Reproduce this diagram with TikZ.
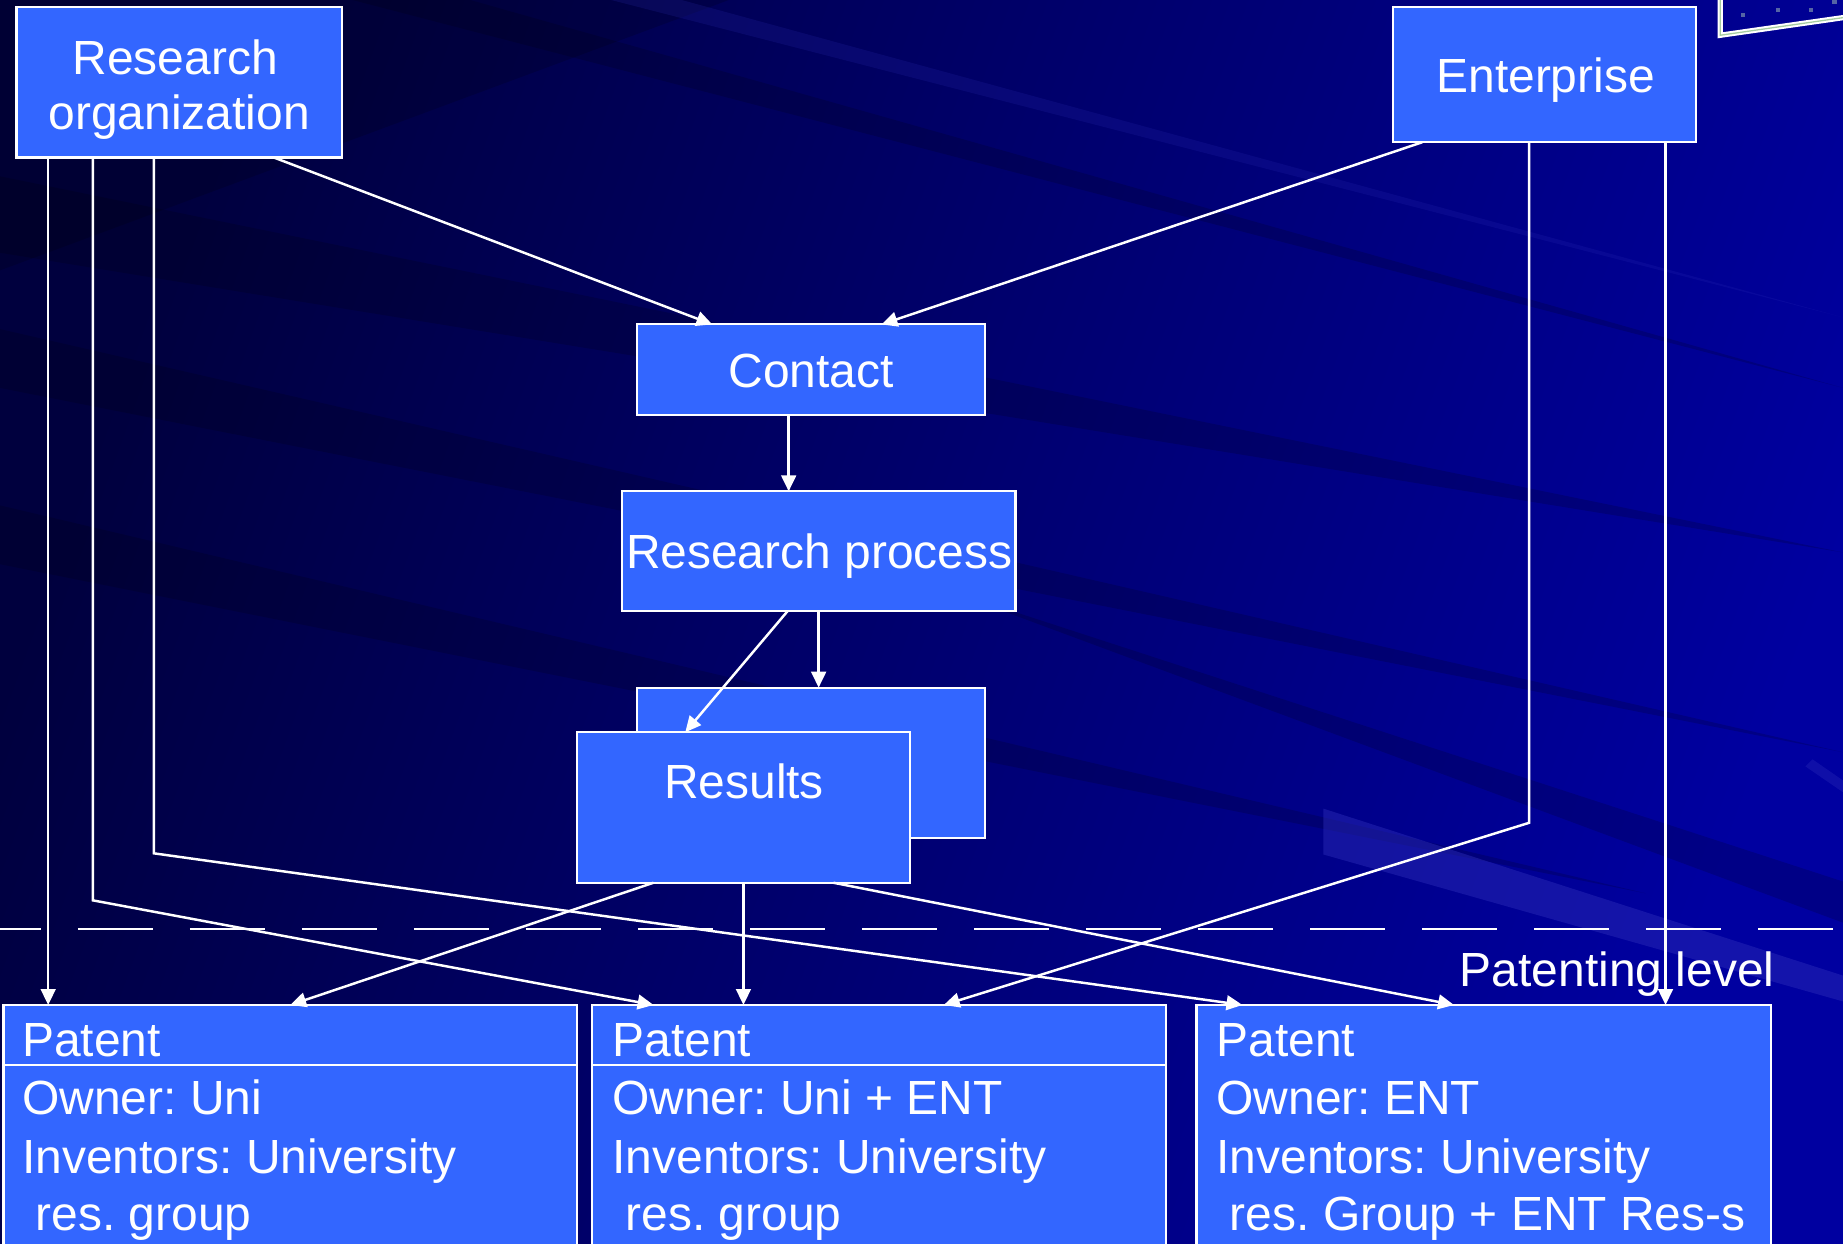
\documentclass[tikz,border=0pt]{standalone}
\usepackage{fontspec}
\setmainfont{Liberation Sans}
\usetikzlibrary{arrows.meta}
\definecolor{bgnavy}{RGB}{0,0,136}
\definecolor{bgdark}{RGB}{0,0,62}
\definecolor{bgbright}{RGB}{0,0,160}
\definecolor{bglight}{RGB}{45,45,185}
\definecolor{boxblue}{RGB}{51,102,255}
\definecolor{framegreen}{RGB}{165,205,160}
\definecolor{dotgrey}{RGB}{85,100,165}
\tikzset{
  box/.style={draw=white, line width=1.8pt, fill=boxblue, rectangle, inner sep=0pt, outer sep=0pt},
  txt/.style={text=white, font=\fontsize{40.8}{48}\selectfont\frenchspacing, inner sep=0pt, outer sep=0pt},
  arr/.style={draw=white, line width=2.1pt, -{Triangle[width=12.5pt,length=13.5pt]}},
  levelline/.style={draw=white, line width=1.8pt, dash pattern=on 64pt off 31.3pt},
  streakdark/.style={fill=black, fill opacity=0.16},
  streaklight/.style={fill=bglight, fill opacity=0.45},
}
\begin{document}
\begin{tikzpicture}[x=1pt,y=-1pt]
\useasboundingbox (0,0) rectangle (1568,1058);
\clip (0,0) rectangle (1568,1058);
% ---------- background ----------
\shade[top color=bgdark, middle color=bgnavy, bottom color=bgbright, shading angle=70] (0,0) rectangle (1568,1058);
\fill[streakdark] (0,0) -- (620,0) -- (0,230) -- cycle;
\fill[streakdark] (0,150) -- (1568,470) -- (0,215) -- cycle;
\fill[streakdark] (0,280) -- (1568,640) -- (0,330) -- cycle;
\fill[streakdark] (0,430) -- (1400,760) -- (0,480) -- cycle;
\fill[streakdark] (300,0) -- (1568,330) -- (400,0) -- cycle;
\fill[streaklight, fill opacity=0.18] (520,0) -- (1568,270) -- (580,0) -- cycle;
\fill[streakdark] (800,500) -- (1568,750) -- (1568,785) -- cycle;
\fill[streaklight] (1126,688) -- (1568,830) -- (1568,852) -- (1126,727) -- cycle;
\fill[streaklight, fill opacity=0.35] (1542,646) -- (1568,664) -- (1568,674) -- (1536,652) -- cycle;
% ---------- picture frame (top right) ----------
\draw[white, line width=4.5pt] (1463.5,-5) -- (1463.5,30) -- (1575,14);
\draw[framegreen, line width=1.1pt] (1463.5,-5) -- (1463.5,30) -- (1575,14);
\fill[dotgrey] (1481,11) rectangle ++(3.5,3.5);
\fill[dotgrey] (1511,7) rectangle ++(3.5,3.5);
\fill[dotgrey] (1539,7) rectangle ++(3.5,3.5);
\fill[dotgrey] (1559,0) rectangle ++(3.5,3.5);
% ---------- patenting level ----------
\coordinate (lvlL) at (-29,790.4);
\coordinate (lvlR) at (1600,790.4);
\draw[levelline] (lvlL) -- (lvlR);
\node[txt, anchor=base west] (plevel) at (1242,839) {Patenting level};
% ---------- boxes ----------
\node[box, minimum width=277pt, minimum height=128pt] (ro) at (152.5,70) {};
\node[txt, anchor=base] (ro1) at (149,63) {Research};
\node[txt, anchor=base] (ro2) at (152.5,110) {organization};
\node[box, minimum width=258pt, minimum height=115pt] (ent) at (1314,63.5) {};
\node[txt, anchor=base] (ent1) at (1315,79) {Enterprise};
\node[box, minimum width=296pt, minimum height=77pt] (contact) at (690,314.5) {};
\node[txt, anchor=base] (contact1) at (690,330) {Contact};
\node[box, minimum width=335pt, minimum height=102pt] (rp) at (696.5,469) {};
\node[txt, anchor=base] (rp1) at (697,484) {Research process};
\node[box, minimum width=296pt, minimum height=128pt] (back) at (690,649) {};
\node[box, minimum width=283pt, minimum height=128pt] (res) at (632.5,687) {};
\node[txt, anchor=base] (res1) at (633,679) {Results};
% patent boxes
\node[box, anchor=north west, minimum width=488pt, minimum height=230pt] (p1) at (3,855) {};
\node[box, anchor=north west, minimum width=488pt, minimum height=230pt] (p2) at (504,855) {};
\node[box, anchor=north west, minimum width=489pt, minimum height=230pt] (p3) at (1018,855) {};
\draw[white, line width=1.8pt] ([yshift=-51pt]p1.north west) -- ([yshift=-51pt]p1.north east);
\draw[white, line width=1.8pt] ([yshift=-51pt]p2.north west) -- ([yshift=-51pt]p2.north east);
\node[txt, anchor=base west] (p1a) at (19,899) {Patent};
\node[txt, anchor=base west] (p1b) at (19,948) {Owner: Uni};
\node[txt, anchor=base west] (p1c) at (19,998) {Inventors: University};
\node[txt, anchor=base west] (p1d) at (19,1047) {\ res. group};
\node[txt, anchor=base west] (p2a) at (521,899) {Patent};
\node[txt, anchor=base west] (p2b) at (521,948) {Owner: Uni + ENT};
\node[txt, anchor=base west] (p2c) at (521,998) {Inventors: University};
\node[txt, anchor=base west] (p2d) at (521,1047) {\ res. group};
\node[txt, anchor=base west] (p3a) at (1035,899) {Patent};
\node[txt, anchor=base west] (p3b) at (1035,948) {Owner: ENT};
\node[txt, anchor=base west] (p3c) at (1035,998) {Inventors: University};
\node[txt, anchor=base west] (p3d) at (1035,1047) {\ res. Group + ENT Res-s};
% ---------- connectors ----------
\coordinate (roA) at ([xshift=27pt]ro.south west);
\coordinate (roB) at ([xshift=65pt]ro.south west);
\coordinate (roC) at ([xshift=117pt]ro.south west);
\coordinate (roD) at ([xshift=219pt]ro.south west);
\coordinate (entA) at ([xshift=25pt]ent.south west);
\coordinate (entB) at ([xshift=116pt]ent.south west);
\coordinate (entC) at ([xshift=232pt]ent.south west);
\coordinate (bendB) at (79,766);
\coordinate (bendC) at (131,726);
\coordinate (bendE) at (1301,700);
\coordinate (ctS) at ([xshift=-19pt]contact.south);
\coordinate (rpA) at ([xshift=141pt]rp.south west);
\coordinate (resA) at ([xshift=65pt]res.south west);
\coordinate (resC) at ([xshift=218pt]res.south west);
\draw[arr] (roD) -- ([xshift=64pt]contact.north west);
\draw[arr] (entA) -- ([xshift=208pt]contact.north west);
\draw[arr] (ctS) -- (ctS |- rp.north);
\draw[arr] (rp.south) -- (rp.south |- back.north);
\draw[arr] (rpA) -- ([xshift=92pt]res.north west);
\draw[arr] (roA) -- (roA |- p1.north);
\draw[arr] (roB) -- (bendB) -- ([xshift=52pt]p2.north west);
\draw[arr] (roC) -- (bendC) -- ([xshift=39pt]p3.north west);
\draw[arr] (resA) -- ([xshift=244pt]p1.north west);
\draw[arr] (res.south) -- (res.south |- p2.north);
\draw[arr] (resC) -- ([xshift=219pt]p3.north west);
\draw[arr] (entB) -- (bendE) -- ([xshift=299pt]p2.north west);
\draw[arr] (entC) -- (entC |- p3.north);
\end{tikzpicture}
\end{document}
